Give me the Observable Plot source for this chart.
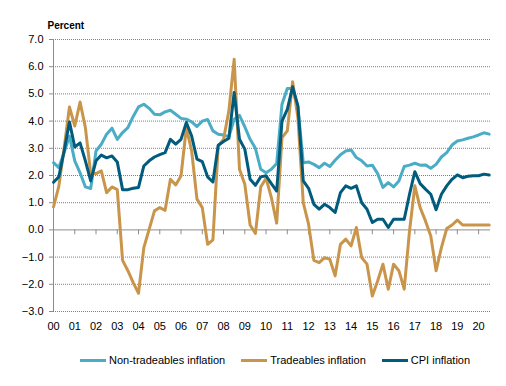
<!DOCTYPE html>
<html><head><meta charset="utf-8">
<script src="https://cdn.jsdelivr.net/npm/d3@7"></script>
<script src="https://cdn.jsdelivr.net/npm/@observablehq/plot@0.6"></script>
<style>
body{margin:0;background:#fff;font-family:"Liberation Sans",Arial,sans-serif;}
#chart svg{display:block}
#legend{display:flex;align-items:center;padding-left:80px;padding-top:8px;height:14px;font-size:11px;color:#000;}
.item{display:flex;align-items:center;margin-right:16px;white-space:nowrap}
.sw{width:26px;height:3px;margin-right:3px}
</style></head><body><div id="chart"></div><div id="legend"></div>
<script>
const startYear = 2000;
const xLabels = ["00","01","02","03","04","05","06","07","08","09","10","11","12","13","14","15","16","17","18","19","20"];
const yTicks = [-3,-2,-1,0,1,2,3,4,5,6,7];
const seriesNames = ["Non-tradeables inflation","Tradeables inflation","CPI inflation"];
const seriesColors = ["#4bacc6","#c8954b","#005b7c"];

const nonTradeables = [2.47,2.29,2.84,3.45,2.54,2.1,1.58,1.52,2.9,3.15,3.52,3.74,3.33,3.58,3.76,4.17,4.52,4.62,4.47,4.25,
4.23,4.34,4.4,4.25,4.1,4.07,3.97,3.8,4.0,4.06,3.64,3.52,3.49,3.42,4.07,4.21,3.79,3.33,3.0,2.23,
2.1,2.23,2.44,4.62,5.2,5.2,4.5,2.47,2.5,2.41,2.29,2.45,2.33,2.56,2.76,2.9,2.94,2.66,2.54,2.35,
2.38,2.07,1.56,1.74,1.58,1.8,2.33,2.38,2.45,2.38,2.39,2.27,2.41,2.68,2.84,3.12,3.27,3.31,3.37,3.42,
3.49,3.57,3.52];
const tradeables = [0.85,1.6,3.0,4.52,3.82,4.7,3.76,2.07,2.07,2.17,1.37,1.58,1.48,-1.12,-1.5,-1.94,-2.33,-0.65,0.02,0.7,
0.82,0.72,1.86,1.65,1.99,3.76,2.9,1.13,0.82,-0.53,-0.37,3.09,3.33,4.37,6.27,2.23,1.68,0.18,-0.13,1.58,
1.9,1.19,0.25,3.39,3.64,5.45,4.12,1.0,0.21,-1.12,-1.2,-1.02,-1.08,-1.69,-0.53,-0.34,-0.59,0.09,-1.02,-1.26,
-2.43,-1.88,-1.26,-2.18,-1.26,-1.5,-2.18,-0.04,1.62,0.82,0.33,-0.22,-1.5,-0.65,0.05,0.18,0.36,0.18,0.18,0.18,
0.18,0.18,0.18];
const cpi = [1.75,1.95,2.9,3.97,3.05,3.2,2.54,1.8,2.54,2.75,2.65,2.72,2.5,1.48,1.48,1.53,1.56,2.35,2.54,2.68,
2.77,2.84,3.33,3.15,3.33,3.95,3.45,2.6,2.51,1.95,1.76,3.11,3.25,3.37,5.05,3.33,2.97,1.86,1.64,1.95,
1.99,1.7,1.43,4.0,4.43,5.26,4.56,1.8,1.53,0.94,0.76,0.94,0.82,0.64,1.37,1.62,1.53,1.62,1.0,0.76,
0.27,0.39,0.39,0.09,0.39,0.39,0.39,1.31,2.14,1.7,1.5,1.31,0.74,1.31,1.62,1.86,2.02,1.92,1.97,1.99,
1.99,2.05,2.02];

const allSeries = [nonTradeables, tradeables, cpi];
const rows = [];
allSeries.forEach((vals, s) => vals.forEach((v, i) => rows.push({t: startYear + i / 4, v, s: seriesNames[s]})));
const years = xLabels.map((_, i) => startYear + i);

const chart = Plot.plot({
  width: 506, height: 345,
  marginLeft: 53, marginRight: 16, marginTop: 39, marginBottom: 34,
  style: {fontFamily: "Liberation Sans, Arial, sans-serif", fontSize: "11px", color: "#000", background: "#fff"},
  x: {domain: [2000, 2020.56], axis: null},
  y: {domain: [-3, 7], axis: null},
  color: {domain: seriesNames, range: seriesColors},
  marks: [
    Plot.ruleY(yTicks.filter(v => v !== 0), {stroke: "#7f7f7f", strokeDasharray: "1,1", strokeWidth: 1}),
    Plot.ruleY([0], {stroke: "#8c8c8c", strokeWidth: 1}),
    Plot.ruleX([2000], {y1: -3, y2: 7, stroke: "#8c8c8c", strokeWidth: 1}),
    Plot.ruleX(years, {x: d => d, y1: 0, y2: -0.18, stroke: "#8c8c8c", strokeWidth: 1}),
    Plot.axisY({ticks: yTicks, tickFormat: d3.format(".1f"), tickSize: 4, tickPadding: 6, label: null, stroke: "#8c8c8c"}),
    Plot.axisX({ticks: years, tickFormat: d => xLabels[d - startYear], tickSize: 0, tickPadding: 11, label: null}),
    Plot.line(rows, {x: "t", y: "v", z: "s", stroke: "s", strokeWidth: 3, strokeLinejoin: "round", strokeLinecap: "round"}),
    Plot.text(["Percent"], {frameAnchor: "top-left", dx: -6, dy: -18, text: d => d, fontWeight: "bold", fontSize: 10, textAnchor: "start"})
  ]
});
document.getElementById("chart").appendChild(chart);

const legend = document.getElementById("legend");
seriesNames.forEach((name, i) => {
  const item = document.createElement("div");
  item.className = "item";
  const sw = document.createElement("div");
  sw.className = "sw";
  sw.style.background = seriesColors[i];
  const tx = document.createElement("span");
  tx.textContent = name;
  item.appendChild(sw); item.appendChild(tx);
  legend.appendChild(item);
});
</script></body></html>
